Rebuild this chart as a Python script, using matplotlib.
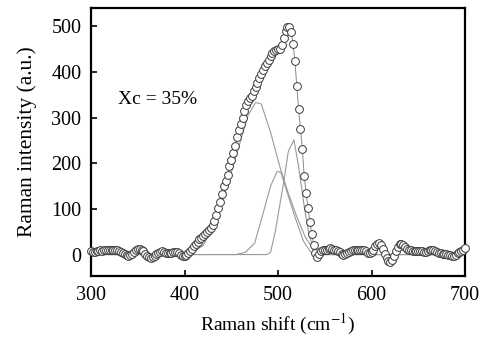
import numpy as np
import matplotlib
matplotlib.use("Agg")
import matplotlib.pyplot as plt

plt.rcParams["font.family"] = ["Liberation Serif", "DejaVu Serif"]
plt.rcParams["mathtext.fontset"] = "stix"

# measured spectrum, sampled every 2 cm-1 from 300 to 700
shift = np.arange(300, 702, 2)
intensity = [
    8, 6, 5, 7, 8, 9, 8, 9, 10, 11,            # 300-318
    10, 9, 10, 11, 9, 7, 5, 3, 1, -2,          # 320-338
    -3, -2, 1, 5, 9, 12, 13, 11, 7, 2,         # 340-358
    -3, -6, -7, -6, -3, 1, 4, 6, 7, 6,         # 360-378
    4, 3, 3, 4, 5, 6, 5, 3, 0, -3,             # 380-398
    -4, -2, 3, 8, 13, 18, 23, 28, 33, 37,      # 400-418
    41, 45, 49, 53, 58, 64, 74, 86, 101, 116,  # 420-438
    133, 150, 162, 175, 193, 207, 222, 238, 258, 273,  # 440-458
    285, 298, 315, 327, 336, 342, 347, 358, 367, 376,  # 460-478
    386, 396, 405, 412, 419, 427, 434, 441, 446, 448,  # 480-498
    450, 451, 458, 475, 490, 498, 499, 488, 462, 424,  # 500-518
    370, 318, 275, 232, 172, 135, 103, 72, 46, 22,     # 520-538
    4, -5, 2, 7, 9, 10, 11, 13, 14, 13,        # 540-558
    11, 10, 8, 5, 2, 0, 1, 3, 6, 8,            # 560-578
    9, 9, 10, 10, 11, 11, 10, 7, 4, 3,         # 580-598
    6, 11, 18, 23, 25, 22, 13, 2, -8, -15,     # 600-618
    -17, -13, -4, 7, 17, 23, 24, 21, 16, 12,   # 620-638
    10, 9, 8, 7, 7, 8, 8, 7, 6, 6,             # 640-658
    7, 9, 10, 10, 8, 6, 4, 3, 2, 2,            # 660-678
    1, 0, -2, -4, -4, -1, 3, 6, 7, 9,          # 680-698
    15,                                        # 700
]

# fitted components (amorphous, intermediate, crystalline)
c1_x = [300, 405, 420, 435, 450, 460, 468, 476, 482, 492, 502, 511, 520, 529, 538, 545, 700]
c1_y = [0, 0, 20, 80, 180, 250, 305, 333, 330, 268, 192, 134, 83, 39, 10, 0, 0]
c2_x = [300, 455, 465, 475, 484, 492, 499, 503, 509, 518, 527, 535, 540, 700]
c2_y = [0, 0, 5, 25, 90, 150, 182, 180, 141, 83, 30, 5, 0, 0]
c3_x = [300, 488, 492, 497, 506, 511, 517, 522, 528, 533, 538, 543, 700]
c3_y = [0, 0, 5, 50, 158, 226, 251, 193, 105, 46, 10, 0, 0]

xticks = [300, 400, 500, 600, 700]
yticks = [0, 100, 200, 300, 400, 500]

fig = plt.figure(figsize=(4.88, 3.43), dpi=100)
ax = fig.add_axes([0.1865, 0.1953, 0.7665, 0.7814])

for cx, cy in [(c1_x, c1_y), (c2_x, c2_y), (c3_x, c3_y)]:
    ax.plot(cx, cy, color="#9a9a9a", lw=0.8, zorder=2)

ax.plot(shift, intensity, color="#8a8a8a", lw=0.7, marker="o", ms=5.6,
        mfc="white", mec="#3a3a3a", mew=0.7, zorder=3, clip_on=False)

ax.text(329, 339, "Xc = 35%", fontsize=14, va="center", ha="left")

ax.set_xlim(300, 700)
ax.set_ylim(-47, 540)
ax.set_xticks(xticks)
ax.set_yticks(yticks)
ax.tick_params(direction="in", length=4, width=1.2, labelsize=14.5,
               top=False, right=False, pad=7)
for s in ax.spines.values():
    s.set_linewidth(1.6)

ax.set_xlabel("Raman shift (cm$^{-1}$)", fontsize=14, labelpad=5)
ax.set_ylabel("Raman intensity (a.u.)", fontsize=15.5, labelpad=10)

fig.savefig("out.png", dpi=100)
